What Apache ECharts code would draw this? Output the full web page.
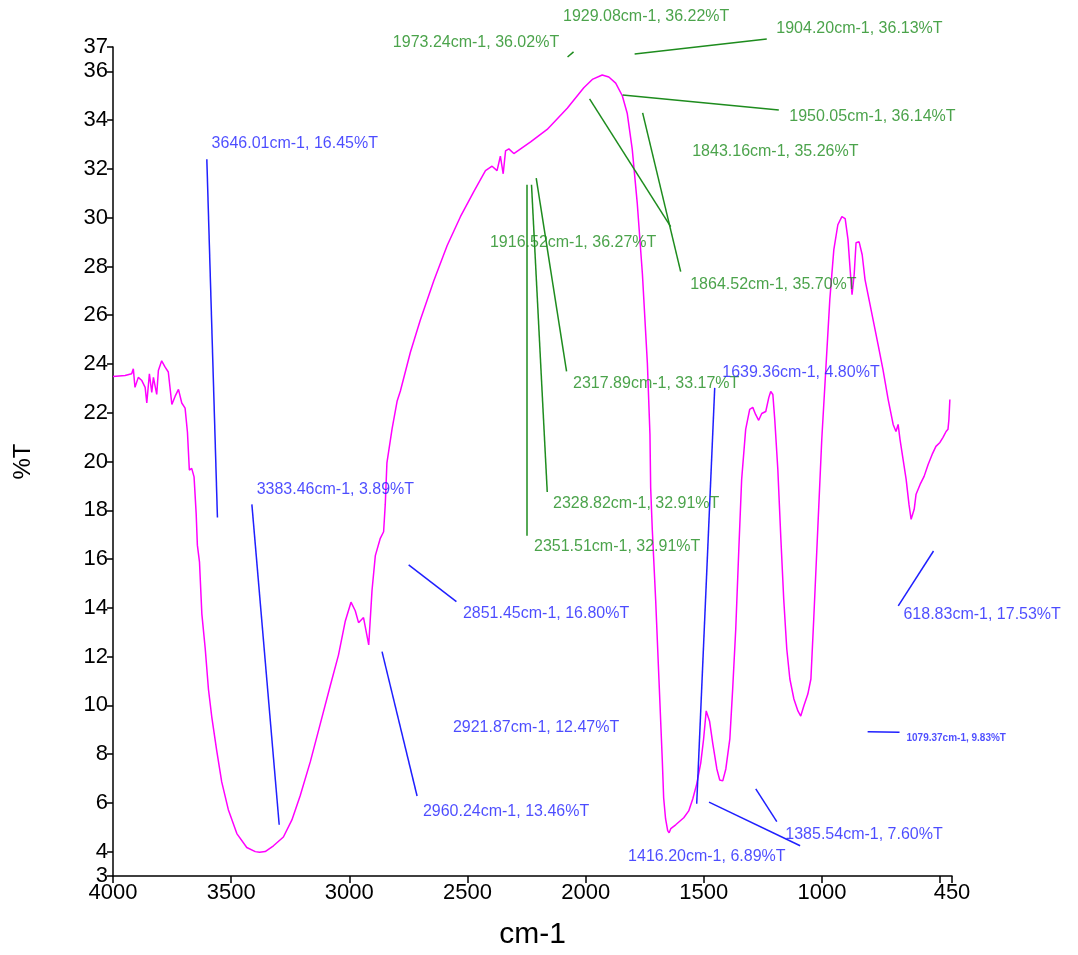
<!DOCTYPE html>
<html><head><meta charset="utf-8">
<script src="https://cdn.jsdelivr.net/npm/echarts@6/dist/echarts.min.js"></script>
<style>html,body{margin:0;padding:0;background:#fff}#c{width:1078px;height:955px}</style>
</head><body><div id="c"></div>
<script>
// Spectrum (wavenumber cm-1, %T)
const wavenumbers = [4000,3949,3921,3914,3907,3893,3878,3864,3857,3846,3836,3829,3815,3808,3794,3780,3766,3751,3737,3723,3709,3695,3685,3677,3667,3657,3648,3643,3634,3624,3610,3596,3582,3561,3540,3512,3476,3434,3398,3380,3356,3321,3279,3243,3208,3165,3123,3081,3046,3017,2993,2975,2961,2940,2918,2904,2890,2869,2855,2848,2841,2819,2798,2784,2742,2700,2643,2586,2530,2474,2424,2396,2375,2361,2349,2339,2325,2304,2233,2163,2078,2008,1972,1930,1902,1873,1845,1824,1803,1782,1760,1739,1728,1725,1718,1704,1690,1676,1670,1662,1653,1647,1640,1619,1585,1564,1547,1530,1513,1501,1490,1476,1462,1445,1433,1420,1407,1390,1378,1365,1352,1340,1323,1306,1293,1281,1268,1255,1238,1225,1217,1208,1200,1187,1174,1162,1149,1136,1119,1102,1090,1077,1060,1047,1035,1018,1001,984,967,950,933,916,902,890,881,873,864,856,843,830,818,801,784,763,742,720,699,687,678,670,657,644,632,623,617,610,602,585,568,551,534,518,501,488,475,467,463,459];
const transmittance = [23.49,23.53,23.60,23.80,23.04,23.45,23.32,23.04,22.40,23.60,22.83,23.45,22.75,23.73,24.13,23.88,23.67,22.34,22.68,22.96,22.40,22.19,21.20,19.65,19.72,19.37,17.84,16.57,15.87,13.74,12.35,10.65,9.52,8.13,6.86,5.72,4.74,4.17,4.00,3.97,4.00,4.24,4.60,5.30,6.29,7.69,9.24,10.79,12.06,13.46,14.23,13.88,13.39,13.60,12.48,14.72,16.14,16.85,17.12,18.24,19.94,21.35,22.47,22.89,24.47,25.79,27.40,28.86,30.04,31.06,31.93,32.11,31.93,32.52,31.80,32.74,32.82,32.63,33.11,33.62,34.49,35.33,35.67,35.85,35.77,35.52,35.00,34.27,32.81,30.62,27.70,24.04,21.11,18.92,17.18,14.35,11.08,7.80,6.20,5.35,4.86,4.77,4.94,5.10,5.39,5.67,6.16,6.78,7.64,8.62,9.77,9.36,8.42,7.39,6.94,6.90,7.39,8.62,10.67,13.13,16.40,19.27,21.32,22.14,22.22,21.93,21.69,21.97,22.05,22.63,22.87,22.75,21.73,19.68,16.81,14.35,12.30,11.08,10.26,9.77,9.56,9.97,10.46,11.08,13.54,17.22,20.91,23.77,26.64,28.69,29.71,30.04,29.96,29.10,27.87,26.84,27.66,28.97,29.01,28.48,27.46,26.64,25.82,24.80,23.77,22.54,21.52,21.23,21.52,20.91,20.09,19.27,18.24,17.63,17.55,18.04,18.66,19.06,19.39,19.88,20.29,20.62,20.78,20.99,21.23,21.32,21.73,22.54];

// Axis ticks and labels
const xTickValues = [4000,3500,3000,2500,2000,1500,1000,500,450];
const xLabelValues = [4000,3500,3000,2500,2000,1500,1000,450];
const yTickValues = [3,4,6,8,10,12,14,16,18,20,22,24,26,28,30,32,34,36,37];

// Peak annotations: text, anchor [cm-1, %T]
const greenTexts = ["1929.08cm-1, 36.22%T","1904.20cm-1, 36.13%T","1973.24cm-1, 36.02%T","1950.05cm-1, 36.14%T","1843.16cm-1, 35.26%T","1916.52cm-1, 36.27%T","1864.52cm-1, 35.70%T","2317.89cm-1, 33.17%T","2328.82cm-1, 32.91%T","2351.51cm-1, 32.91%T"];
const greenAnchors = [[2093.7,38.23],[1191.3,37.74],[2813.8,37.16],[1136.3,34.13],[1547.2,32.70],[2402.9,28.97],[1555.6,27.25],[2051.3,23.16],[2136.0,18.24],[2216.5,16.48]];
const greenLeaders = [[[1792.9,36.71],[1233.7,37.33]],[[2076.7,36.59],[2051.3,36.80]],[[1843.7,35.03],[1182.9,34.42]],[[1983.5,34.87],[1640.4,29.63]],[[1759.0,34.30],[1598.0,27.79]],[[2209.3,31.62],[2080.9,23.70]],[[2229.2,31.35],[2162.6,18.75]],[[2250.4,31.35],[2250.4,16.95]]];

const blueTexts = ["3646.01cm-1, 16.45%T","3383.46cm-1, 3.89%T","2851.45cm-1, 16.80%T","2921.87cm-1, 12.47%T","2960.24cm-1, 13.46%T","1639.36cm-1, 4.80%T","1416.20cm-1, 6.89%T","1385.54cm-1, 7.60%T","618.83cm-1, 17.53%T"];
const blueAnchors = [[3580.6,33.03],[3390.0,18.82],[2517.3,13.74],[2559.7,9.07],[2686.7,5.63],[1420.1,23.61],[1818.3,3.79],[1153.2,4.69],[653.3,13.70]];
const blueSmallTexts = ["1079.37cm-1, 9.83%T"];
const blueSmallAnchors = [[640.6,8.62]];
const blueLeaders = [[[3603.0,32.40],[3558.1,17.70]],[[3412.4,18.24],[3296.8,5.10]],[[2749.0,15.76],[2546.9,14.25]],[[2861.7,12.20],[2713.4,6.28]],[[1454.0,23.02],[1530.2,5.96]],[[1478.1,6.03],[1092.6,4.24]],[[1280.3,6.57],[1191.3,5.23]],[[677.4,14.08],[528.2,16.33]],[[807.0,8.92],[672.0,8.90]]];

const GREEN = '#1e8c1e', BLUE = '#1f1fff';
const FONT = "'Liberation Sans', Arial, sans-serif";

function labelSeries(texts, anchors, color, size, weight) {
  return {
    type: 'scatter', symbol: 'circle', symbolSize: 1, clip: false, silent: true,
    itemStyle: {color: 'rgba(0,0,0,0)'},
    data: anchors.map((a, i) => [a[0], a[1], texts[i]]),
    label: {show: true, position: [0, 0], align: 'left', verticalAlign: 'middle',
      formatter: p => p.data[2], color: color, fontSize: size, fontWeight: weight || 'normal', fontFamily: FONT},
    z: 5
  };
}
function leaderSeries(segs, color) {
  return {
    type: 'lines', coordinateSystem: 'cartesian2d', polyline: false, clip: false, silent: true,
    lineStyle: {color: color, width: 1.5, opacity: 1},
    data: segs.map(s => ({coords: s})), z: 4
  };
}

const chart = echarts.init(document.getElementById('c'), null, {renderer: 'canvas'});
chart.setOption({
  animation: false,
  backgroundColor: '#fff',
  grid: {left: 113, right: 126, top: 47, bottom: 78},
  xAxis: {
    type: 'value', inverse: true, min: 450, max: 4000,
    name: 'cm-1', nameLocation: 'middle', nameGap: 44,
    nameTextStyle: {fontSize: 30, color: '#000', fontFamily: FONT},
    axisLine: {lineStyle: {color: '#000', width: 1.5}},
    axisTick: {show: true, length: 7, lineStyle: {color: '#000', width: 1.5}, customValues: xTickValues},
    axisLabel: {color: '#000', fontSize: 22, margin: 6, fontFamily: FONT, customValues: xLabelValues,
      formatter: v => String(v)},
    splitLine: {show: false}
  },
  yAxis: {
    type: 'value', min: 3, max: 37,
    name: '%T', nameLocation: 'middle', nameGap: 78,
    nameTextStyle: {fontSize: 24, color: '#000', fontFamily: FONT},
    axisLine: {show: true, lineStyle: {color: '#000', width: 1.5}},
    axisTick: {show: true, length: 6, lineStyle: {color: '#000', width: 1.5}, customValues: yTickValues},
    axisLabel: {color: '#000', fontSize: 22, margin: 5, fontFamily: FONT, customValues: yTickValues,
      formatter: v => String(v)},
    splitLine: {show: false}
  },
  series: [
    {
      type: 'line', showSymbol: false, symbol: 'none', smooth: false, silent: true,
      data: wavenumbers.map((w, i) => [w, transmittance[i]]),
      lineStyle: {color: '#ff00ff', width: 1.5}, z: 3
    },
    leaderSeries(greenLeaders, GREEN),
    leaderSeries(blueLeaders, BLUE),
    labelSeries(greenTexts, greenAnchors, GREEN, 16),
    labelSeries(blueTexts, blueAnchors, BLUE, 16),
    labelSeries(blueSmallTexts, blueSmallAnchors, BLUE, 10, 'bold')
  ]
});
</script></body></html>
